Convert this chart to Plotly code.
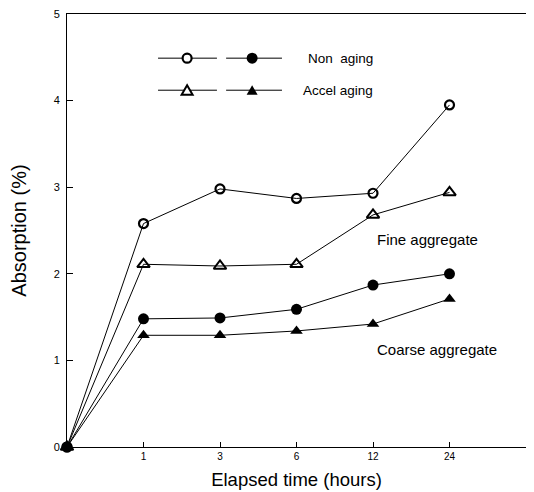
import plotly.graph_objects as go

# ---- data ----
hours = ["0", "1", "3", "6", "12", "24"]
non_aging_fine = [0, 2.58, 2.98, 2.87, 2.93, 3.95]
accel_aging_fine = [0, 2.11, 2.09, 2.11, 2.68, 2.94]
non_aging_coarse = [0, 1.48, 1.49, 1.59, 1.87, 2.00]
accel_aging_coarse = [0, 1.29, 1.29, 1.34, 1.42, 1.71]
tick_hours = ["1", "3", "6", "12", "24"]

pos = list(range(len(hours)))
tick_pos = [hours.index(h) for h in tick_hours]

FONT = "Liberation Sans, Arial, sans-serif"

fig = go.Figure()

def add(y, symbol, size, name, lw):
    fig.add_trace(go.Scatter(
        x=pos, y=y, mode="lines+markers", name=name,
        line=dict(color="black", width=1),
        marker=dict(symbol=symbol, size=size, color="black",
                    line=dict(color="black", width=lw)),
        cliponaxis=False, showlegend=False))

add(non_aging_fine, "circle-open", 9, "Non aging fine", 2.2)
add(accel_aging_fine, "triangle-up-open", 11, "Accel aging fine", 2)
add(non_aging_coarse, "circle", 11, "Non aging coarse", 0)
add(accel_aging_coarse, "triangle-up", 11, "Accel aging coarse", 0)

# ---- legend drawn as shapes ----
shapes = []
rows = [(4.49, "circle"), (4.12, "triangle")]
for yv, kind in rows:
    for (x0, x1, xm, filled) in [(1.19, 1.96, 1.57, False), (2.08, 2.81, 2.42, True)]:
        shapes.append(dict(type="line", xref="x", yref="y", x0=x0, x1=x1, y0=yv, y1=yv,
                           line=dict(color="black", width=1)))
        if kind == "circle":
            r = 5.5 if filled else 4.5
            shapes.append(dict(type="circle", xref="x", yref="y",
                               xsizemode="pixel", ysizemode="pixel",
                               xanchor=xm, yanchor=yv,
                               x0=-r, x1=r, y0=-r, y1=r,
                               fillcolor="black" if filled else "white",
                               line=dict(color="black", width=0 if filled else 2.2)))
        else:
            shapes.append(dict(type="path", xref="x", yref="y",
                               xsizemode="pixel", ysizemode="pixel",
                               xanchor=xm, yanchor=yv,
                               path="M -5.5,-4.5 L 5.5,-4.5 L 0,5 Z",
                               fillcolor="black" if filled else "white",
                               line=dict(color="black", width=0 if filled else 2)))

annotations = [
    dict(x=3.13, y=4.49, xref="x", yref="y", text="Non  aging", showarrow=False,
         xanchor="left", font=dict(family=FONT, size=13.5, color="black")),
    dict(x=3.06, y=4.12, xref="x", yref="y", text="Accel aging", showarrow=False,
         xanchor="left", font=dict(family=FONT, size=13.5, color="black")),
    dict(x=4.02, y=2.40, xref="x", yref="y", text="Fine aggregate", showarrow=False,
         xanchor="left", font=dict(family=FONT, size=15, color="black")),
    dict(x=4.02, y=1.13, xref="x", yref="y", text="Coarse aggregate", showarrow=False,
         xanchor="left", font=dict(family=FONT, size=15, color="black")),
]

# page body has an 8px default margin, so the figure is sized to fit inside it
fig.update_layout(
    width=526, height=484,
    margin=dict(l=59, r=8, t=6, b=45),
    paper_bgcolor="white", plot_bgcolor="white",
    shapes=shapes, annotations=annotations,
    font=dict(family=FONT, color="black"),
)
fig.update_xaxes(
    range=[0, 6], tickvals=tick_pos, ticktext=tick_hours, automargin=False,
    showgrid=False, zeroline=False, showline=True, mirror=True,
    linecolor="black", linewidth=1, ticks="inside", ticklen=5, tickcolor="black",
    tickfont=dict(family=FONT, size=10),
    title=dict(text="Elapsed time (hours)", font=dict(family=FONT, size=18.5), standoff=12),
)
fig.update_yaxes(
    range=[0, 5], tickvals=[0, 1, 2, 3, 4, 5], automargin=False,
    showgrid=False, zeroline=False, showline=True, mirror=True,
    linecolor="black", linewidth=1, ticks="inside", ticklen=6, tickcolor="black",
    tickfont=dict(family=FONT, size=11), ticklabelstandoff=4, ticklabeloverflow="allow",
    title=dict(text="Absorption (%)", font=dict(family=FONT, size=20), standoff=26),
)

fig.write_html("out.html")
